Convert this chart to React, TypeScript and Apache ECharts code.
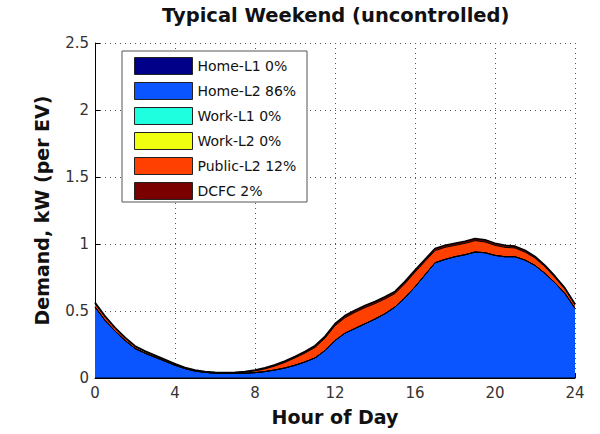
import React, { useEffect, useRef } from "react";
import * as echarts from "echarts";

const hours = [0, 0.5, 1, 1.5, 2, 2.5, 3, 3.5, 4, 4.5, 5, 5.5, 6, 6.5, 7, 7.5, 8, 8.5, 9, 9.5, 10, 10.5, 11, 11.5, 12, 12.5, 13, 13.5, 14, 14.5, 15, 15.5, 16, 16.5, 17, 17.5, 18, 18.5, 19, 19.5, 20, 20.5, 21, 21.5, 22, 22.5, 23, 23.5, 24];

const homeL1 = [0, 0, 0, 0, 0, 0, 0, 0, 0, 0, 0, 0, 0, 0, 0, 0, 0, 0, 0, 0, 0, 0, 0, 0, 0, 0, 0, 0, 0, 0, 0, 0, 0, 0, 0, 0, 0, 0, 0, 0, 0, 0, 0, 0, 0, 0, 0, 0, 0];
const homeL2 = [0.53, 0.43, 0.35, 0.28, 0.22, 0.185, 0.155, 0.125, 0.095, 0.07, 0.052, 0.042, 0.036, 0.034, 0.034, 0.035, 0.04, 0.048, 0.06, 0.075, 0.095, 0.12, 0.15, 0.205, 0.28, 0.335, 0.37, 0.405, 0.44, 0.48, 0.53, 0.6, 0.68, 0.77, 0.86, 0.885, 0.905, 0.92, 0.94, 0.935, 0.915, 0.905, 0.905, 0.88, 0.84, 0.78, 0.71, 0.63, 0.52];
const workL1 = [0, 0, 0, 0, 0, 0, 0, 0, 0, 0, 0, 0, 0, 0, 0, 0, 0, 0, 0, 0, 0, 0, 0, 0, 0, 0, 0, 0, 0, 0, 0, 0, 0, 0, 0, 0, 0, 0, 0, 0, 0, 0, 0, 0, 0, 0, 0, 0, 0];
const workL2 = [0, 0, 0, 0, 0, 0, 0, 0, 0, 0, 0, 0, 0, 0, 0, 0, 0, 0, 0, 0, 0, 0, 0, 0, 0, 0, 0, 0, 0, 0, 0, 0, 0, 0, 0, 0, 0, 0, 0, 0, 0, 0, 0, 0, 0, 0, 0, 0, 0];
const publicL2 = [0.025, 0.025, 0.02, 0.017, 0.014, 0.012, 0.01, 0.009, 0.007, 0.005, 0.004, 0.003, 0.002, 0.002, 0.004, 0.007, 0.013, 0.02, 0.03, 0.042, 0.055, 0.066, 0.078, 0.092, 0.11, 0.115, 0.12, 0.12, 0.115, 0.11, 0.1, 0.105, 0.11, 0.1, 0.09, 0.09, 0.085, 0.085, 0.085, 0.08, 0.075, 0.07, 0.065, 0.06, 0.055, 0.05, 0.04, 0.032, 0.025];
const dcfc = [0.008, 0.008, 0.007, 0.006, 0.006, 0.005, 0.005, 0.004, 0.004, 0.004, 0.004, 0.004, 0.004, 0.004, 0.005, 0.006, 0.007, 0.008, 0.009, 0.01, 0.011, 0.012, 0.013, 0.014, 0.015, 0.016, 0.016, 0.016, 0.016, 0.016, 0.016, 0.016, 0.016, 0.016, 0.016, 0.016, 0.016, 0.016, 0.016, 0.016, 0.016, 0.015, 0.014, 0.013, 0.012, 0.011, 0.01, 0.009, 0.008];

const seriesNames = ["Home-L1 0%", "Home-L2 86%", "Work-L1 0%", "Work-L2 0%", "Public-L2 12%", "DCFC 2%"];
const seriesColors = ["#000088", "#0a55ff", "#1effe0", "#f0ff10", "#ff4000", "#7a0000"];
const seriesValues = [homeL1, homeL2, workL1, workL2, publicL2, dcfc];

const titleText = "Typical Weekend (uncontrolled)";
const xName = "Hour of Day";
const yName = "Demand, kW (per EV)";

const FONT = "DejaVu Sans";

export default function App() {
  const ref = useRef<HTMLDivElement>(null);
  useEffect(() => {
    if (!ref.current) return;
    const chart = echarts.init(ref.current, null, { renderer: "svg" });
    const dotted = { color: "#555", width: 1, type: [1, 4] as any };
    chart.setOption({
      animation: false,
      backgroundColor: "#fff",
      title: {
        text: titleText,
        left: 162,
        top: 5,
        padding: 0,
        textStyle: { fontFamily: FONT, fontWeight: "bold", fontSize: 19.5, color: "#111" },
      },
      grid: { left: 95, right: 25, top: 43, bottom: 56, containLabel: false, outerBoundsMode: "none" },
      xAxis: {
        type: "category",
        boundaryGap: false,
        data: hours.map((h) => String(h)),
        name: xName,
        nameLocation: "middle",
        nameGap: 29,
        nameTextStyle: { fontFamily: FONT, fontWeight: "bold", fontSize: 19, color: "#111" },
        axisLine: { show: true, onZero: false, lineStyle: { color: "#000", width: 1 } },
        axisTick: { show: true, inside: true, length: 5, interval: 7, lineStyle: { color: "#000" } },
        axisLabel: { fontFamily: FONT, fontSize: 15, color: "#333", margin: 7, interval: 7 },
        splitLine: { show: true, interval: 7, lineStyle: dotted },
      },
      yAxis: {
        type: "value",
        min: 0,
        max: 2.5,
        interval: 0.5,
        name: yName,
        nameLocation: "middle",
        nameGap: 44,
        nameTextStyle: { fontFamily: FONT, fontWeight: "bold", fontSize: 19, color: "#111" },
        axisLine: { show: true, lineStyle: { color: "#000", width: 1 } },
        axisTick: { show: true, inside: true, length: 5, lineStyle: { color: "#000" } },
        axisLabel: { fontFamily: FONT, fontSize: 15, color: "#333", margin: 6 },
        splitLine: { show: true, lineStyle: dotted },
      },
      legend: {
        orient: "vertical",
        left: 134,
        top: 57,
        padding: 0,
        itemWidth: 58,
        itemHeight: 17,
        itemGap: 7,
        icon: "rect",
        selectedMode: false,
        textStyle: { fontFamily: FONT, fontSize: 14, color: "#111" },
        data: seriesNames.map((n, i) => ({
          name: n,
          icon: "rect",
          itemStyle: { color: seriesColors[i], borderColor: "#222", borderWidth: 1 },
        })),
        z: 5,
      },
      graphic: [
        {
          type: "rect",
          z: 4,
          shape: { x: 122, y: 51, width: 185, height: 151 },
          style: { fill: "#fff", stroke: "#555", lineWidth: 1 },
        },
      ],
      series: seriesNames.map((n, i) => ({
        name: n,
        type: "line",
        stack: "total",
        symbol: "none",
        color: seriesColors[i],
        data: seriesValues[i],
        lineStyle: { color: "#000", width: i === 5 ? 1.6 : 1 },
        areaStyle: { color: seriesColors[i], opacity: 1 },
        z: 2,
      })),
    });
    return () => chart.dispose();
  }, []);
  return (
    <div
      ref={ref}
      style={{ position: "fixed", left: 0, top: 0, width: 600, height: 434, background: "#fff" }}
    />
  );
}
